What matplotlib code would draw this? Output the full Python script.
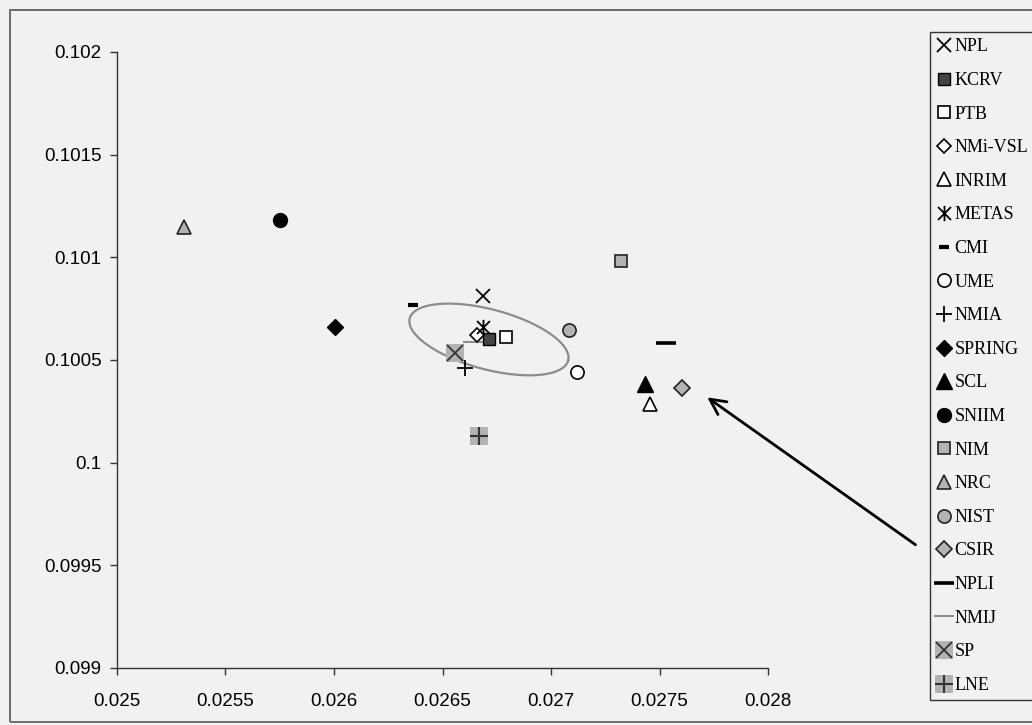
import numpy as np
import matplotlib
matplotlib.use("Agg")
import matplotlib.pyplot as plt
from matplotlib.patches import Rectangle
from matplotlib.path import Path
from matplotlib.legend_handler import HandlerTuple

matplotlib.rcParams['font.family'] = 'Liberation Sans'

# laboratory results, legend order
labs = ["NPL", "KCRV", "PTB", "NMi-VSL", "INRIM", "METAS", "CMI", "UME", "NMIA",
        "SPRING", "SCL", "SNIIM", "NIM", "NRC", "NIST", "CSIR", "NPLI", "NMIJ",
        "SP", "LNE"]
x_vals = [0.026687, 0.026714, 0.026793, 0.026660, 0.027456, 0.026687, 0.026364,
          0.027120, 0.026604, 0.026005, 0.027433, 0.025751, 0.027323, 0.025310,
          0.027083, 0.027604, 0.027530, 0.026640, 0.026558, 0.026668]
y_vals = [0.100810, 0.100600, 0.100610, 0.100620, 0.100286, 0.100660, 0.100770,
          0.100440, 0.100460, 0.100660, 0.100384, 0.101180, 0.100982, 0.101150,
          0.100647, 0.100364, 0.100583, 0.100590, 0.100535, 0.100130]

# confidence ellipse around the KCRV (half-axis vectors)
ell_u = (3.65e-4, -1.03e-4)
ell_v = (-3.6e-5, -1.41e-4)

xticks = [0.025, 0.0255, 0.026, 0.0265, 0.027, 0.0275, 0.028]
yticks = [0.099, 0.0995, 0.1, 0.1005, 0.101, 0.1015, 0.102]

# arrow pointing at CSIR
arrow_head = (0.02772, 0.100318)
arrow_tail = (0.028680, 0.099600)

bg = '#f1f1f1'
grey = '#b3b3b3'
dark = '#444444'

# X with a vertical bar through it
asterisk = Path([(0, -1), (0, 1), (-0.85, -0.85), (0.85, 0.85), (-0.85, 0.85), (0.85, -0.85)],
                [Path.MOVETO, Path.LINETO] * 3)

# marker styles per lab; a list means stacked markers (background box + symbol)
styles = {
    "NPL": dict(marker='x', ms=10, mew=1.3, color='black'),
    "KCRV": dict(marker='s', ms=9, mfc=dark, mec='black', mew=1.0),
    "PTB": dict(marker='s', ms=9, mfc='white', mec='black', mew=1.2),
    "NMi-VSL": dict(marker='D', ms=7, mfc='white', mec='black', mew=1.2),
    "INRIM": dict(marker='^', ms=10, mfc='white', mec='black', mew=1.2),
    "METAS": dict(marker=asterisk, ms=11, mew=1.3, color='black'),
    "CMI": dict(marker='_', ms=7, mew=3.0, color='black'),
    "UME": dict(marker='o', ms=9.5, mfc='white', mec='black', mew=1.2),
    "NMIA": dict(marker='+', ms=11, mew=1.3, color='black'),
    "SPRING": dict(marker='D', ms=8, mfc='black', mec='black'),
    "SCL": dict(marker='^', ms=11, mfc='black', mec='black'),
    "SNIIM": dict(marker='o', ms=10, mfc='black', mec='black'),
    "NIM": dict(marker='s', ms=9, mfc=grey, mec='#222222', mew=1.2),
    "NRC": dict(marker='^', ms=10, mfc=grey, mec='#222222', mew=1.2),
    "NIST": dict(marker='o', ms=9.5, mfc=grey, mec='#222222', mew=1.2),
    "CSIR": dict(marker='D', ms=8, mfc=grey, mec='#222222', mew=1.2),
    "NPLI": dict(marker='_', ms=14, mew=2.6, color='black'),
    "NMIJ": dict(marker='_', ms=14, mew=1.4, color='#8a8a8a'),
    "SP": [dict(marker='s', ms=13, mfc=grey, mec=grey, mew=0),
           dict(marker='x', ms=11, mew=1.3, color='#333333')],
    "LNE": [dict(marker='s', ms=13, mfc=grey, mec=grey, mew=0),
            dict(marker='+', ms=13, mew=1.5, color='#333333')],
}

fig = plt.figure(figsize=(10.32, 7.25), dpi=100, facecolor=bg)
ax = fig.add_axes([117/1032, 1-668/725, (768-117)/1032, (668-52)/725])
ax.set_facecolor(bg)

# outer chart frame
fig.patches.append(Rectangle((10/1032, 1-722/725), 1.2, (722-10)/725,
                             transform=fig.transFigure, fill=False,
                             edgecolor='#555555', lw=1.2))

# ellipse
t = np.linspace(0, 2*np.pi, 300)
cx, cy = x_vals[1], y_vals[1]
ax.plot(cx + ell_u[0]*np.cos(t) + ell_v[0]*np.sin(t),
        cy + ell_u[1]*np.cos(t) + ell_v[1]*np.sin(t),
        color='#8c8c8c', lw=1.6, zorder=2)

handles = []
order_z = {"KCRV": 4, "PTB": 3, "NMi-VSL": 5, "METAS": 6, "NPL": 6}
for lab, xv, yv in zip(labs, x_vals, y_vals):
    st = styles[lab]
    parts = st if isinstance(st, list) else [st]
    hs = []
    for i, p in enumerate(parts):
        h, = ax.plot([xv], [yv], linestyle='none', zorder=order_z.get(lab, 4) + i, **p)
        hs.append(h)
    handles.append(tuple(hs) if len(hs) > 1 else hs[0])

ax.annotate('', xy=arrow_head, xytext=arrow_tail, annotation_clip=False,
            arrowprops=dict(arrowstyle='->', color='black', lw=2.0,
                            mutation_scale=28, shrinkA=0, shrinkB=0))

ax.set_xlim(xticks[0], xticks[-1])
ax.set_ylim(yticks[0], yticks[-1])
ax.set_xticks(xticks)
ax.set_yticks(yticks)
ax.set_xticklabels(['%g' % v for v in xticks])
ax.set_yticklabels(['%g' % v for v in yticks])
for s in ['top', 'right']:
    ax.spines[s].set_visible(False)
for s in ['left', 'bottom']:
    ax.spines[s].set_color('#333333')
    ax.spines[s].set_linewidth(1.0)
ax.tick_params(axis='both', direction='out', length=5, width=1, color='#333333',
               labelsize=13.5)
ax.tick_params(axis='y', pad=6)
ax.tick_params(axis='x', pad=13)

leg = fig.legend(handles, labs, loc='upper left',
                 bbox_to_anchor=(930/1032, 1-32/725), borderaxespad=0,
                 handler_map={tuple: HandlerTuple(ndivide=1)},
                 prop={'family': 'Liberation Serif', 'size': 13},
                 frameon=True, fancybox=False, edgecolor='#333333',
                 facecolor=bg, framealpha=1, handlelength=0.9,
                 handletextpad=0.1, labelspacing=0.92, borderpad=0.35)
leg.get_frame().set_linewidth(1.0)

plt.savefig('out.png', dpi=100, facecolor=bg)
